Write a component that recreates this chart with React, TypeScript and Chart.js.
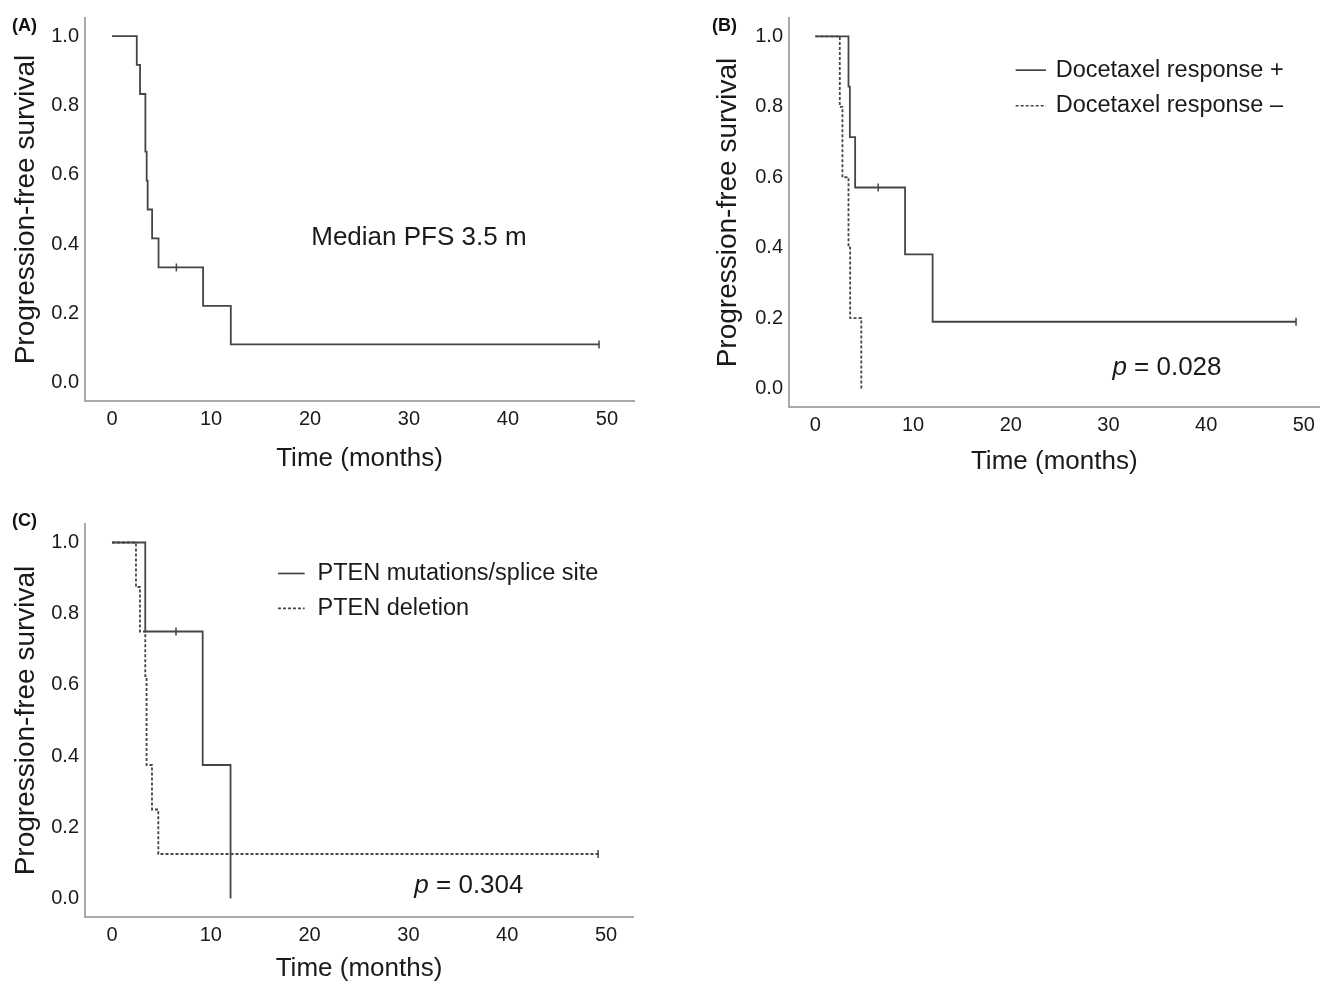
import React, { useEffect, useRef } from 'react';
import { Chart, registerables } from 'chart.js';

Chart.register(...registerables);

// ---------- data ----------
const xTicks = [0, 10, 20, 30, 40, 50];
const yTicks = [0, 0.2, 0.4, 0.6, 0.8, 1.0];

// Panel A: all patients
const aTimes = [0, 2.5, 2.83, 3.37, 3.5, 3.6, 4.05, 4.7, 9.2, 12.0, 49.2];
const aSurv = [1, 0.917, 0.833, 0.667, 0.583, 0.5, 0.417, 0.333, 0.222, 0.111, 0.111];
const aCensorTimes = [6.5, 49.2];
const aCensorSurv = [0.333, 0.111];

// Panel B: docetaxel response
const bPosTimes = [0, 3.39, 3.53, 4.07, 9.18, 12.0, 49.2];
const bPosSurv = [1, 0.857, 0.714, 0.571, 0.381, 0.19, 0.19];
const bPosCensorTimes = [6.43, 49.2];
const bPosCensorSurv = [0.571, 0.19];
const bNegTimes = [0, 2.5, 2.77, 3.39, 3.56, 4.7];
const bNegSurv = [1, 0.8, 0.6, 0.4, 0.2, 0];

// Panel C: PTEN status
const cMutTimes = [0, 3.37, 9.18, 12.0];
const cMutSurv = [1, 0.75, 0.375, 0];
const cMutCensorTimes = [6.48];
const cMutCensorSurv = [0.75];
const cDelTimes = [0, 2.43, 2.83, 3.37, 3.5, 4.05, 4.69, 49.2];
const cDelSurv = [1, 0.875, 0.75, 0.625, 0.375, 0.25, 0.125, 0.125];
const cDelCensorTimes = [49.2];
const cDelCensorSurv = [0.125];

const yTitle = 'Progression-free survival';
const xTitle = 'Time (months)';
const medianText = 'Median PFS 3.5 m';
const bLegend = ['Docetaxel response +', 'Docetaxel response \u2013'];
const cLegend = ['PTEN mutations/splice site', 'PTEN deletion'];
const bP = '0.028';
const cP = '0.304';

// ---------- styling ----------
const FONT = '"Liberation Sans", Arial, Helvetica, sans-serif';
const LINE = '#454545';
const AXIS = '#a9a9a9';
const TEXT = '#1a1a1a';
const DASH = [3, 2];

const pts = (t: number[], s: number[]) => t.map((x, i) => ({ x, y: s[i] }));

const curve = (t: number[], s: number[], dashed: boolean) => ({
  type: 'line' as const,
  data: pts(t, s),
  stepped: 'before' as const,
  borderColor: LINE,
  borderWidth: 1.8,
  borderDash: dashed ? DASH : [],
  pointRadius: 0,
  fill: false,
});

const censor = (t: number[], s: number[]) => ({
  type: 'scatter' as const,
  data: pts(t, s),
  pointStyle: 'line' as const,
  rotation: 90,
  pointRadius: 4,
  borderColor: LINE,
  borderWidth: 1.5,
  showLine: false,
});

type Ann = {
  median?: { x: number; y: number; text: string };
  pval?: { x: number; y: number; text: string };
  legend?: { x1: number; x2: number; xt: number; ys: number[]; labels: string[] };
};

type PanelProps = {
  left: number;
  top: number;
  width: number;
  height: number;
  pad: { left: number; right: number; top: number; bottom: number };
  yWidth: number;
  xHeight: number;
  xMin: number;
  xMax: number;
  yTitlePad: number;
  xTitlePad: number;
  datasets: any[];
  ann: Ann;
};

function Panel(p: PanelProps) {
  const ref = useRef<HTMLCanvasElement | null>(null);
  useEffect(() => {
    if (!ref.current) return;
    const annPlugin = {
      id: 'ann',
      afterDatasetsDraw(chart: any) {
        const ctx = chart.ctx;
        const xs = chart.scales.x;
        const ys = chart.scales.y;
        ctx.save();
        ctx.fillStyle = TEXT;
        ctx.textBaseline = 'middle';
        if (p.ann.median) {
          const m = p.ann.median;
          ctx.font = `26px ${FONT}`;
          ctx.textAlign = 'center';
          ctx.fillText(m.text, xs.getPixelForValue(m.x), ys.getPixelForValue(m.y));
        }
        if (p.ann.pval) {
          const v = p.ann.pval;
          const px = xs.getPixelForValue(v.x);
          const py = ys.getPixelForValue(v.y);
          ctx.textAlign = 'left';
          ctx.font = `italic 26px ${FONT}`;
          ctx.fillText('p', px, py);
          const w = ctx.measureText('p').width;
          ctx.font = `26px ${FONT}`;
          ctx.fillText(' = ' + v.text, px + w, py);
        }
        if (p.ann.legend) {
          const l = p.ann.legend;
          l.labels.forEach((lab, i) => {
            const py = ys.getPixelForValue(l.ys[i]);
            ctx.strokeStyle = LINE;
            ctx.lineWidth = 1.7;
            ctx.setLineDash(i === 0 ? [] : DASH);
            ctx.beginPath();
            ctx.moveTo(xs.getPixelForValue(l.x1), py);
            ctx.lineTo(xs.getPixelForValue(l.x2), py);
            ctx.stroke();
            ctx.setLineDash([]);
            ctx.font = `23.5px ${FONT}`;
            ctx.textAlign = 'left';
            ctx.fillText(lab, xs.getPixelForValue(l.xt), py);
          });
        }
        ctx.restore();
      },
    };
    const chart = new Chart(ref.current, {
      type: 'line',
      data: { datasets: p.datasets },
      options: {
        responsive: false,
        animation: false,
        layout: { padding: p.pad },
        plugins: { legend: { display: false }, tooltip: { enabled: false } },
        scales: {
          x: {
            type: 'linear',
            min: p.xMin,
            max: p.xMax,
            grid: { display: false, drawTicks: false },
            border: { display: true, color: AXIS, width: 2 },
            afterBuildTicks: (s: any) => {
              s.ticks = xTicks.map((v) => ({ value: v }));
            },
            afterFit: (s: any) => {
              s.height = p.xHeight;
            },
            ticks: {
              font: { family: FONT, size: 20 },
              color: TEXT,
              padding: 6,
              maxRotation: 0,
              autoSkip: false,
              callback: (v: any) => String(v),
            },
            title: {
              display: true,
              text: xTitle,
              font: { family: FONT, size: 26 },
              color: TEXT,
              padding: { top: 4, bottom: p.xTitlePad },
            },
          },
          y: {
            type: 'linear',
            min: -0.052,
            max: 1.052,
            grid: { display: false, drawTicks: false },
            border: { display: true, color: AXIS, width: 2 },
            afterBuildTicks: (s: any) => {
              s.ticks = yTicks.map((v) => ({ value: v }));
            },
            afterFit: (s: any) => {
              s.width = p.yWidth;
            },
            ticks: {
              font: { family: FONT, size: 20 },
              color: TEXT,
              padding: 6,
              autoSkip: false,
              callback: (v: any) => Number(v).toFixed(1),
            },
            title: {
              display: true,
              text: yTitle,
              font: { family: FONT, size: 28 },
              color: TEXT,
              padding: { top: p.yTitlePad, bottom: 0 },
            },
          },
        },
      } as any,
      plugins: [annPlugin],
    });
    return () => chart.destroy();
  }, []);
  return (
    <canvas
      ref={ref}
      width={p.width}
      height={p.height}
      style={{ position: 'absolute', left: p.left, top: p.top, width: p.width, height: p.height }}
    />
  );
}

const labelStyle = (left: number, top: number): React.CSSProperties => ({
  position: 'absolute',
  left,
  top,
  font: `bold 18px ${FONT}`,
  lineHeight: '18px',
  color: '#111',
});

export default function App() {
  useEffect(() => {
    document.body.style.margin = '0';
  }, []);
  return (
    <div style={{ position: 'relative', width: 1325, height: 984, background: '#fff', overflow: 'hidden' }}>
      <Panel
        left={0}
        top={0}
        width={660}
        height={480}
        pad={{ left: 0, right: 26, top: 16, bottom: 0 }}
        yWidth={85}
        xHeight={79}
        xMin={-2.73}
        xMax={52.73}
        yTitlePad={9}
        xTitlePad={6}
        datasets={[curve(aTimes, aSurv, false), censor(aCensorTimes, aCensorSurv)]}
        ann={{ median: { x: 31, y: 0.418, text: medianText } }}
      />
      <Panel
        left={700}
        top={0}
        width={625}
        height={480}
        pad={{ left: 0, right: 0, top: 16, bottom: 0 }}
        yWidth={89}
        xHeight={73}
        xMin={-2.7}
        xMax={51.6}
        yTitlePad={11}
        xTitlePad={3}
        datasets={[
          curve(bNegTimes, bNegSurv, true),
          curve(bPosTimes, bPosSurv, false),
          censor(bPosCensorTimes, bPosCensorSurv),
        ]}
        ann={{
          pval: { x: 30.4, y: 0.059, text: bP },
          legend: { x1: 20.5, x2: 23.6, xt: 24.6, ys: [0.904, 0.803], labels: bLegend },
        }}
      />
      <Panel
        left={0}
        top={500}
        width={660}
        height={484}
        pad={{ left: 0, right: 27, top: 24, bottom: 0 }}
        yWidth={85}
        xHeight={67}
        xMin={-2.73}
        xMax={52.73}
        yTitlePad={9}
        xTitlePad={0}
        datasets={[
          curve(cDelTimes, cDelSurv, true),
          curve(cMutTimes, cMutSurv, false),
          censor(cMutCensorTimes, cMutCensorSurv),
          censor(cDelCensorTimes, cDelCensorSurv),
        ]}
        ann={{
          pval: { x: 30.6, y: 0.036, text: cP },
          legend: { x1: 16.8, x2: 19.5, xt: 20.8, ys: [0.913, 0.815], labels: cLegend },
        }}
      />
      <div style={labelStyle(12, 16)}>(A)</div>
      <div style={labelStyle(712, 16)}>(B)</div>
      <div style={labelStyle(12, 511)}>(C)</div>
    </div>
  );
}
